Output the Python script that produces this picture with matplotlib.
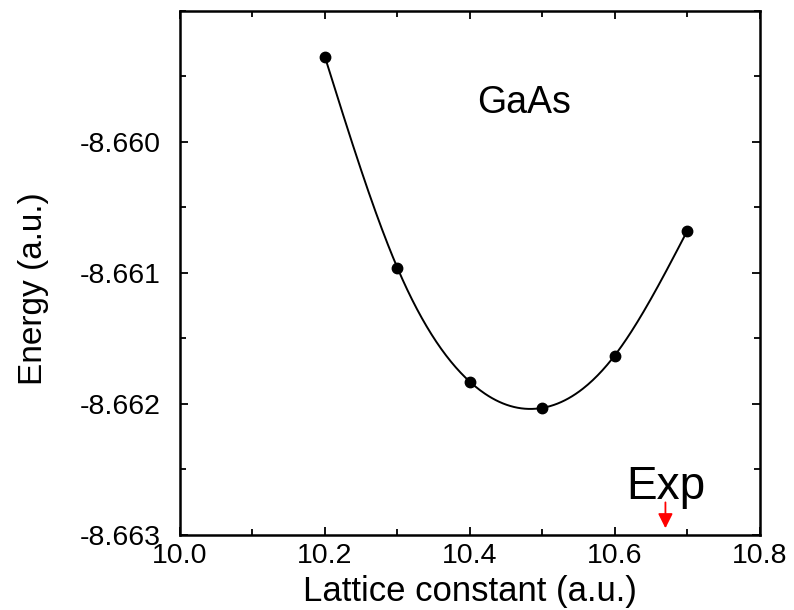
import numpy as np
import matplotlib
matplotlib.use("Agg")
import matplotlib.pyplot as plt
from matplotlib.ticker import MultipleLocator, FormatStrFormatter

# Data
lattice = [10.2, 10.3, 10.4, 10.5, 10.6, 10.7]
energy = [-8.65935, -8.66096, -8.66183, -8.66203, -8.66163, -8.66068]
exp_lattice = 10.67
x_ticks = [10.0, 10.2, 10.4, 10.6, 10.8]
y_ticks = [-8.663, -8.662, -8.661, -8.660]


def natural_spline(x, y, xs):
    x = np.asarray(x, float); y = np.asarray(y, float)
    n = len(x)
    h = np.diff(x)
    A = np.zeros((n, n)); b = np.zeros(n)
    A[0, 0] = 1; A[-1, -1] = 1
    for i in range(1, n - 1):
        A[i, i - 1] = h[i - 1]
        A[i, i] = 2 * (h[i - 1] + h[i])
        A[i, i + 1] = h[i]
        b[i] = 3 * ((y[i + 1] - y[i]) / h[i] - (y[i] - y[i - 1]) / h[i - 1])
    c = np.linalg.solve(A, b)
    out = np.empty_like(xs)
    for k, xv in enumerate(xs):
        i = min(max(np.searchsorted(x, xv) - 1, 0), n - 2)
        d = (c[i + 1] - c[i]) / (3 * h[i])
        bb = (y[i + 1] - y[i]) / h[i] - h[i] * (2 * c[i] + c[i + 1]) / 3
        t = xv - x[i]
        out[k] = y[i] + bb * t + c[i] * t ** 2 + d * t ** 3
    return out


plt.rcParams['font.family'] = ['Liberation Sans', 'DejaVu Sans']

fig = plt.figure(figsize=(7.94, 6.10), dpi=100)
ax = fig.add_axes([0.2267, 0.123, 0.730, 0.859])

xs = np.linspace(lattice[0], lattice[-1], 300)
ax.plot(xs, natural_spline(lattice, energy, xs), color='black', lw=1.4)
ax.plot(lattice, energy, 'o', color='black', ms=7.5)

ax.set_xlim(10.0, 10.8)
ax.set_ylim(-8.663, -8.659)
ax.set_xticks(x_ticks)
ax.set_yticks(y_ticks)
ax.xaxis.set_minor_locator(MultipleLocator(0.1))
ax.yaxis.set_minor_locator(MultipleLocator(0.0005))
ax.xaxis.set_major_formatter(FormatStrFormatter('%.1f'))
ax.yaxis.set_major_formatter(FormatStrFormatter('%.3f'))
ax.tick_params(which='both', direction='in', top=True, right=True, width=1.3)
ax.tick_params(which='major', length=6, labelsize=20.5)
ax.tick_params(which='minor', length=4)
ax.tick_params(axis='y', pad=14)
ax.tick_params(axis='x', pad=6)
for s in ax.spines.values():
    s.set_linewidth(1.8)

ax.set_xlabel('Lattice constant (a.u.)', fontsize=25, labelpad=4)
ax.set_ylabel('Energy (a.u.)', fontsize=24)
ax.yaxis.set_label_coords(-0.226, 0.47)

ax.text(10.475, -8.6597, 'GaAs', fontsize=27, ha='center', va='center')
ax.text(exp_lattice, -8.66263, 'Exp', fontsize=33, ha='center', va='center')
ax.annotate('', xy=(exp_lattice, -8.66297), xytext=(exp_lattice, -8.66273),
            arrowprops=dict(arrowstyle='-|>', color='red', lw=1.3,
                            mutation_scale=22))

fig.savefig('out.png', dpi=100)
